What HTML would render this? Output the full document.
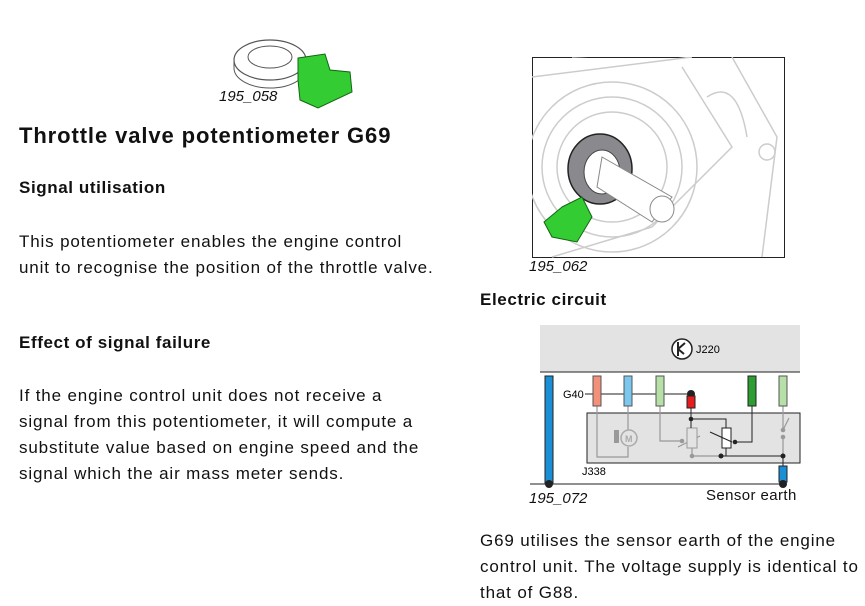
<!DOCTYPE html>
<html><head><style>
body{margin:0;width:865px;height:601px;background:#fff;position:relative;overflow:hidden;font-family:"Liberation Sans",sans-serif;color:#111}
.t{position:absolute;white-space:nowrap}
.b{font-weight:bold}
.p{font-size:17px;line-height:26px;letter-spacing:0.85px}
.cap{font-style:italic;font-size:15px}
</style></head><body>
<svg class="t" style="left:230px;top:20px" width="130" height="90">
<ellipse cx="40" cy="40" rx="36" ry="20" fill="#fff" stroke="#555" stroke-width="1.2"/>
<ellipse cx="40" cy="37" rx="22" ry="11" fill="#fff" stroke="#555"/>
<path d="M4 40 v8 a36 20 0 0 0 72 0 v-8" fill="none" stroke="#555"/>
<polygon points="68,38 95,34 100,50 120,52 122,72 88,88 70,80 68,60" fill="#3c3" stroke="#161" stroke-width="1"/>
</svg>
<div class="t cap" style="left:219px;top:88px">195_058</div>
<div class="t b" style="left:19px;top:123px;font-size:22px;letter-spacing:0.9px">Throttle valve potentiometer G69</div>
<div class="t b" style="left:19px;top:178px;font-size:17px;letter-spacing:0.6px">Signal utilisation</div>
<div class="t p" style="left:19px;top:229px">This potentiometer enables the engine control<br>unit to recognise the position of the throttle valve.</div>
<div class="t b" style="left:19px;top:333px;font-size:17px;letter-spacing:0.6px">Effect of signal failure</div>
<div class="t p" style="left:19px;top:383px">If the engine control unit does not receive a<br>signal from this potentiometer, it will compute a<br>substitute value based on engine speed and the<br>signal which the air mass meter sends.</div>

<svg class="t" style="left:532px;top:57px" width="253" height="201">
<rect x="0.5" y="0.5" width="252" height="200" fill="#fff" stroke="#222"/>
<g fill="none" stroke="#ccc" stroke-width="1.5">
<path d="M0 20 L160 0 M40 0 L150 -5 M150 10 L200 90 L120 170 L20 200"/>
<path d="M200 0 L245 80 L230 200"/>
<circle cx="80" cy="110" r="55"/><circle cx="80" cy="110" r="70"/><circle cx="80" cy="110" r="85"/>
<path d="M175 40 q30 -20 40 40"/>
<circle cx="235" cy="95" r="8"/>
</g>
<ellipse cx="68" cy="112" rx="32" ry="35" fill="#8a8a8e" stroke="#222" stroke-width="1.5"/>
<ellipse cx="70" cy="115" rx="18" ry="22" fill="#fff" stroke="#444"/>
<path d="M70 100 L140 140 L120 165 L65 130 Z" fill="#fff" stroke="#888"/>
<ellipse cx="130" cy="152" rx="12" ry="13" fill="#fff" stroke="#888"/>
<polygon points="30,150 50,140 60,160 45,185 20,180 12,165" fill="#3c3" stroke="#161"/>
</svg>
<div class="t cap" style="left:529px;top:258px">195_062</div>
<div class="t b" style="left:480px;top:290px;font-size:17px;letter-spacing:0.6px">Electric circuit</div>

<svg class="t" style="left:530px;top:320px" width="280" height="190" font-family="Liberation Sans">
<rect x="10" y="5" width="260" height="47" fill="#e3e3e3"/>
<line x1="10" y1="52" x2="270" y2="52" stroke="#222"/>
<circle cx="152" cy="29" r="10" fill="#fff" stroke="#222" stroke-width="1.5"/>
<path d="M148 22 v14 M148 29 l7 -6 M148 29 l6 5" stroke="#222" stroke-width="2" fill="none"/>
<text x="166" y="33" font-size="11">J220</text>
<rect x="57" y="93" width="213" height="50" fill="#e3e3e3" stroke="#222"/>
<g stroke="#999" stroke-width="1.2" fill="none">
<path d="M67 86 V137 H98 V127"/>
<path d="M98 86 V110"/>
<path d="M130 86 V121 H152"/>
<path d="M162 128 V136 H191"/>
<path d="M148 127 l22 -11"/>
<path d="M253 86 V110 l6 -12 M253 117 V136"/>
</g>
<rect x="157" y="108" width="10" height="20" fill="#e3e3e3" stroke="#999"/>
<circle cx="152" cy="121" r="2.3" fill="#999"/><circle cx="162" cy="136" r="2.3" fill="#999"/>
<circle cx="253" cy="110" r="2.3" fill="#999"/><circle cx="253" cy="117" r="2.3" fill="#999"/>
<rect x="84" y="110" width="5" height="13" fill="#999"/>
<circle cx="99" cy="118" r="8" fill="none" stroke="#aaa" stroke-width="1.5"/>
<text x="95" y="122" font-size="9" fill="#aaa" font-weight="bold">M</text>
<text x="33" y="78" font-size="11">G40</text>
<line x1="55" y1="74" x2="161" y2="74" stroke="#222"/>
<circle cx="161" cy="74" r="4" fill="#222"/>
<path d="M161 88 V99 H196 V108 M161 99 V108" stroke="#222" fill="none"/>
<circle cx="161" cy="99" r="2.3" fill="#222"/>
<rect x="192" y="108" width="9" height="20" fill="#fff" stroke="#222"/>
<path d="M180 112 l22 10" stroke="#222"/>
<path d="M222 86 V122 H205" stroke="#222" fill="none"/>
<circle cx="205" cy="122" r="2.3" fill="#222"/>
<path d="M196 128 V136 M191 136 H253" stroke="#222"/>
<circle cx="191" cy="136" r="2.5" fill="#222"/><circle cx="253" cy="136" r="2.5" fill="#222"/>
<rect x="15" y="56" width="8" height="108" fill="#1a8fd6" stroke="#222"/>
<rect x="63" y="56" width="8" height="30" fill="#f3907a" stroke="#555"/>
<rect x="94" y="56" width="8" height="30" fill="#7cc7ef" stroke="#555"/>
<rect x="126" y="56" width="8" height="30" fill="#b7e0a8" stroke="#555"/>
<rect x="157" y="76" width="8" height="12" fill="#e41e1e" stroke="#222"/>
<rect x="218" y="56" width="8" height="30" fill="#2e9e33" stroke="#222"/>
<rect x="249" y="56" width="8" height="30" fill="#b7e0a8" stroke="#555"/>
<rect x="249" y="146" width="8" height="16" fill="#1a8fd6" stroke="#222"/>
<line x1="253" y1="136" x2="253" y2="146" stroke="#222"/>
<line x1="0" y1="164" x2="253" y2="164" stroke="#222"/>
<circle cx="19" cy="164" r="4" fill="#222"/><circle cx="253" cy="164" r="4" fill="#222"/>
<text x="52" y="155" font-size="11">J338</text>
</svg>
<div class="t cap" style="left:529px;top:490px">195_072</div>
<div class="t" style="left:706px;top:487px;font-size:15px;letter-spacing:0.4px">Sensor earth</div>
<div class="t p" style="left:480px;top:528px">G69 utilises the sensor earth of the engine<br>control unit. The voltage supply is identical to<br>that of G88.</div>
</body></html>
